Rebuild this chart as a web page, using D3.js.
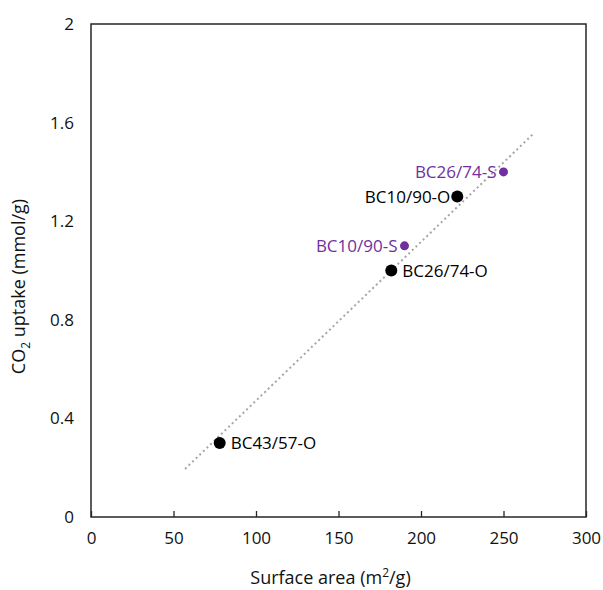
<!DOCTYPE html>
<html>
<head>
<meta charset="utf-8">
<script src="https://cdn.jsdelivr.net/npm/d3@7"></script>
<style>
  html, body { margin: 0; padding: 0; background: #fff; }
  text { font-family: "Open Sans", sans-serif; }
</style>
</head>
<body>
<svg id="chart" width="603" height="590"></svg>
<script>
// Samples: surface area (m2/g) vs CO2 uptake (mmol/g)
const sampleNames = ["BC43/57-O", "BC26/74-O", "BC10/90-O", "BC10/90-S", "BC26/74-S"];
const surfaceArea = [78, 182, 222, 190, 250];
const co2Uptake = [0.30, 1.00, 1.30, 1.10, 1.40];
const sampleGroup = ["O", "O", "O", "S", "S"];

// Linear trend endpoints
const trendX = [57, 268];
const trendY = [0.195, 1.554];

const xTicks = [0, 50, 100, 150, 200, 250, 300];
const yTicks = [0, 0.4, 0.8, 1.2, 1.6, 2];

const svg = d3.select("#chart");
const margin = { left: 91, right: 17, top: 24, bottom: 73 };
const W = 603, H = 590;
const FONT = "'Open Sans', sans-serif";
const FS = 17;

const x = d3.scaleLinear().domain([0, 300]).range([margin.left, W - margin.right]);
const y = d3.scaleLinear().domain([0, 2]).range([H - margin.bottom, margin.top]);

const purple = "#7030A0";

// frame
svg.append("rect")
  .attr("x", x(0)).attr("y", y(2))
  .attr("width", x(300) - x(0)).attr("height", y(0) - y(2))
  .attr("fill", "none").attr("stroke", "#262626").attr("stroke-width", 1.5);

// x axis (ticks pointing inward)
const xAxis = svg.append("g")
  .attr("transform", `translate(0,${y(0)})`)
  .call(d3.axisBottom(x).tickValues(xTicks).tickSize(-6).tickPadding(15).tickFormat(d3.format("d")));
xAxis.select(".domain").remove();
xAxis.selectAll(".tick line").attr("stroke", "#262626").attr("stroke-width", 1.3);
xAxis.selectAll(".tick text").attr("font-size", FS).attr("fill", "#111")
  .style("font-family", FONT);

// y axis
const yAxis = svg.append("g")
  .attr("transform", `translate(${x(0)},0)`)
  .call(d3.axisLeft(y).tickValues(yTicks).tickSize(0).tickPadding(17)
    .tickFormat(d => d === 0 || d === 2 ? d3.format("d")(d) : d3.format(".1f")(d)));
yAxis.select(".domain").remove();
yAxis.selectAll(".tick text").attr("font-size", FS).attr("fill", "#111")
  .style("font-family", FONT);

// axis titles
const xt = svg.append("text")
  .attr("x", (x(0) + x(300)) / 2 - 8).attr("y", 584)
  .attr("text-anchor", "middle").attr("font-size", 18).attr("fill", "#111");
xt.append("tspan").text("Surface area (m");
xt.append("tspan").attr("font-size", 12).attr("dy", -7).text("2");
xt.append("tspan").attr("dy", 7).text("/g)");

const yt = svg.append("text")
  .attr("transform", `translate(25,${(y(0) + y(2)) / 2 + 16}) rotate(-90)`)
  .attr("text-anchor", "middle").attr("font-size", 18).attr("fill", "#111");
yt.append("tspan").text("CO");
yt.append("tspan").attr("font-size", 12).attr("dy", 5).text("2");
yt.append("tspan").attr("dy", -5).text(" uptake (mmol/g)");

// trend line
svg.append("line")
  .attr("x1", x(trendX[0])).attr("y1", y(trendY[0]))
  .attr("x2", x(trendX[1])).attr("y2", y(trendY[1]))
  .attr("stroke", "#a6a6a6").attr("stroke-width", 2)
  .attr("stroke-dasharray", "2,3");

// points and labels
const data = sampleNames.map((n, i) => ({ name: n, sa: surfaceArea[i], co2: co2Uptake[i], g: sampleGroup[i] }));

svg.selectAll("circle.pt").data(data).enter().append("circle")
  .attr("class", "pt")
  .attr("cx", d => x(d.sa)).attr("cy", d => y(d.co2))
  .attr("r", d => d.g === "O" ? 6 : 4.5)
  .attr("fill", d => d.g === "O" ? "#000" : purple);

// label placement: left or right of the point
const labelSide = { "BC43/57-O": "right", "BC26/74-O": "right", "BC10/90-O": "left", "BC10/90-S": "left", "BC26/74-S": "left" };
svg.selectAll("text.lbl").data(data).enter().append("text")
  .attr("class", "lbl")
  .attr("x", d => labelSide[d.name] === "right" ? x(d.sa) + 11 : x(d.sa) - 7)
  .attr("y", d => y(d.co2) + 6)
  .attr("text-anchor", d => labelSide[d.name] === "right" ? "start" : "end")
  .attr("font-size", FS)
  .attr("fill", d => d.g === "O" ? "#000" : purple)
  .text(d => d.name);
</script>
</body>
</html>
